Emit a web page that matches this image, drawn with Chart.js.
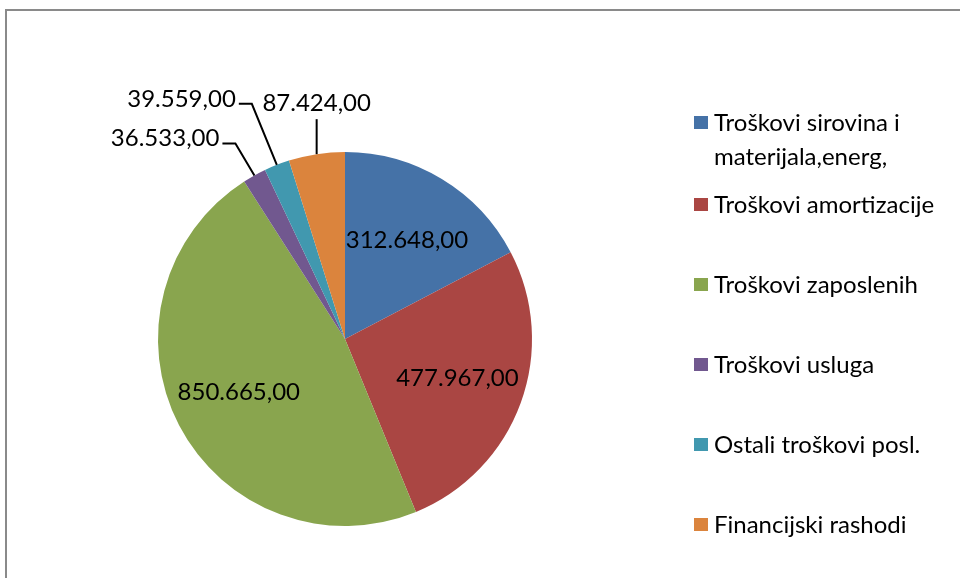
<!DOCTYPE html>
<html>
<head>
<meta charset="utf-8">
<script src="https://cdn.jsdelivr.net/npm/chart.js@4"></script>
<style>
  html, body { margin: 0; padding: 0; background: #fff; }
  #wrap { position: relative; width: 960px; height: 578px; overflow: hidden; }
  #frame { position: absolute; left: 5px; top: 9px; width: 970px; height: 600px;
           border-left: 2px solid #8a8a8a; border-top: 2px solid #8a8a8a; }
  canvas { position: absolute; left: 0; top: 0; }
</style>
</head>
<body>
<div id="wrap">
  <div id="frame"></div>
  <canvas id="chart1" width="960" height="578"></canvas>
</div>
<script>
const categories = [
  "Troškovi sirovina i materijala,energ,",
  "Troškovi amortizacije",
  "Troškovi zaposlenih",
  "Troškovi usluga",
  "Ostali troškovi posl.",
  "Financijski rashodi",
];
const values = [312648, 477967, 850665, 36533, 39559, 87424];

const sliceColors = [
  "#4572A7", // blue
  "#AA4643", // red
  "#89A54E", // green
  "#71588F", // purple
  "#4198AF", // teal
  "#DB843D", // orange
];

// legend lines (first entry wraps in the original)
const legendLines = [
  ["Troškovi sirovina i", "materijala,energ,"],
  ["Troškovi amortizacije"],
  ["Troškovi zaposlenih"],
  ["Troškovi usluga"],
  ["Ostali troškovi posl."],
  ["Financijski rashodi"],
];

// leader lines for the thin slices: [dx, dy to the bend, horizontal run]
const leaders = [null, null, null, [-19, -32, -13], [-25, -61, -13], [0, -35, 0]];

const FONT = "Lato, 'Open Sans', sans-serif";

function fmtValue(v) {
  const s = String(Math.round(v));
  return s.replace(/\B(?=(\d{3})+(?!\d))/g, ".") + ",00";
}

const pieLabels = {
  id: "pieLabels",
  afterDatasetsDraw(chart) {
    const ctx = chart.ctx;
    const meta = chart.getDatasetMeta(0);
    ctx.save();
    ctx.font = "24px " + FONT;
    ctx.fillStyle = "#000";
    ctx.strokeStyle = "#000";
    ctx.lineWidth = 2;
    meta.data.forEach((arc, i) => {
      const mid = (arc.startAngle + arc.endAngle) / 2;
      const r = arc.outerRadius;
      const text = fmtValue(values[i]);
      const lead = leaders[i];
      if (!lead) {
        ctx.textAlign = "center";
        ctx.textBaseline = "middle";
        ctx.fillText(text, arc.x + Math.cos(mid) * r * 0.64, arc.y + Math.sin(mid) * r * 0.62);
        return;
      }
      const ex = arc.x + Math.cos(mid) * r;
      const ey = arc.y + Math.sin(mid) * r;
      const bx = ex + lead[0];
      const by = ey + lead[1];
      const tx = bx + lead[2];
      ctx.beginPath();
      ctx.moveTo(ex, ey);
      ctx.lineTo(bx, by);
      ctx.lineTo(tx, by);
      ctx.stroke();
      if (lead[2] === 0) {
        ctx.textAlign = "center";
        ctx.textBaseline = "bottom";
        ctx.fillText(text, tx, by - 4);
      } else {
        ctx.textAlign = "right";
        ctx.textBaseline = "middle";
        ctx.fillText(text, tx - 3, by - 5);
      }
    });
    ctx.restore();
  },
};

const sideLegend = {
  id: "sideLegend",
  afterDraw(chart) {
    const ctx = chart.ctx;
    ctx.save();
    ctx.font = "24px " + FONT;
    ctx.textAlign = "left";
    ctx.textBaseline = "middle";
    let y = 123;
    legendLines.forEach((lines, i) => {
      ctx.fillStyle = sliceColors[i];
      ctx.fillRect(694, y - 7, 14, 13);
      ctx.fillStyle = "#000";
      lines.forEach((line, k) => {
        ctx.fillText(line, 714, y + k * 34);
      });
      y += i === 0 ? 82 : 80;
    });
    ctx.restore();
  },
};

function createPieChart(ctx) {
  return new Chart(ctx, {
    type: "pie",
    data: {
      labels: categories,
      datasets: [
        {
          data: values,
          backgroundColor: sliceColors,
          borderWidth: 0,
        },
      ],
    },
    options: {
      responsive: false,
      animation: false,
      layout: {
        padding: { left: 158, right: 428, top: 152, bottom: 52 },
      },
      plugins: {
        legend: { display: false },
        tooltip: { enabled: false },
      },
    },
    plugins: [pieLabels, sideLegend],
  });
}

const simChart = createPieChart(document.getElementById("chart1"));
</script>
</body>
</html>
